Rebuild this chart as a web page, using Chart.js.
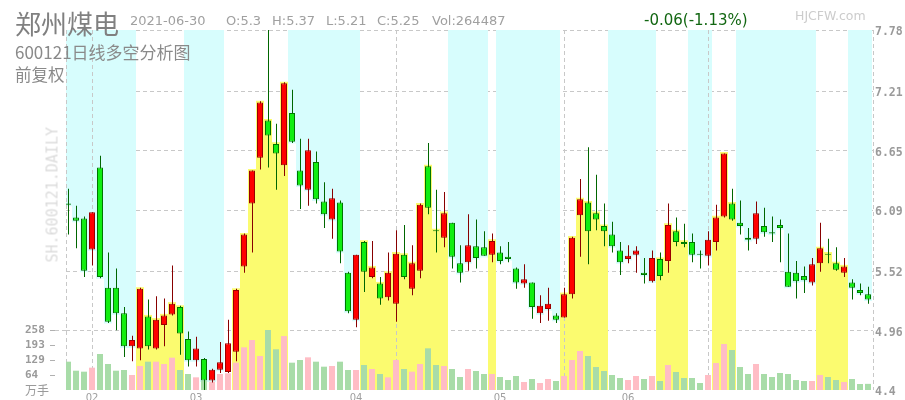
<!DOCTYPE html>
<html lang="zh">
<head>
<meta charset="utf-8">
<title>郑州煤电 600121 日线多空分析图</title>
<script src="https://cdn.jsdelivr.net/npm/chart.js@4.4.1/dist/chart.umd.min.js"></script>
<style>
  html, body { margin: 0; padding: 0; background: #ffffff; }
  #wrap { position: relative; width: 905px; height: 400px; overflow: hidden; background: #fff; }
  #chart { position: absolute; left: 0; top: 0; }
  .txt { position: absolute; white-space: pre; line-height: 1; pointer-events: none; }
  .cjk { font-family: "Noto Sans CJK SC", sans-serif; }
  .info { font-family: "DejaVu Sans", sans-serif; font-size: 13px; color: #a0a0a0; top: 14px; }
</style>
</head>
<body>
<div id="wrap">
  <canvas id="chart" width="905" height="400"></canvas>
  <div class="txt cjk" style="left:15px;top:10px;font-size:26px;color:#808080;">郑州煤电</div>
  <div class="txt info" style="left:130px;">2021-06-30</div>
  <div class="txt info" style="left:226px;">O:5.3</div>
  <div class="txt info" style="left:272px;">H:5.37</div>
  <div class="txt info" style="left:326px;">L:5.21</div>
  <div class="txt info" style="left:377px;">C:5.25</div>
  <div class="txt info" style="left:432px;">Vol:264487</div>
  <div class="txt" style="left:644px;top:13px;font-family:'DejaVu Sans',sans-serif;font-size:15px;color:#116611;">-0.06(-1.13%)</div>
  <div class="txt" style="left:795px;top:10px;font-family:'DejaVu Sans',sans-serif;font-size:12.5px;color:#cccccc;">HJCFW.com</div>
  <div class="txt cjk" style="left:15px;top:43px;font-size:17px;color:#8a8a8a;">600121日线多空分析图</div>
  <div class="txt cjk" style="left:15px;top:66px;font-size:16.5px;color:#8a8a8a;">前复权</div>
  <div class="txt" style="left:-15px;top:187px;width:136px;height:15px;font-family:'DejaVu Sans Mono',monospace;font-size:15px;line-height:15px;color:#dcdcdc;transform:rotate(-90deg);transform-origin:50% 50%;">SH.600121.DAILY</div>
</div>
<script>
// ---------------- data ----------------
const monthLabels    = ['02', '03', '04', '05', '06'];
const monthTickIndex = [3, 16, 36, 54, 70];
const vGridIndex     = [3, 41, 62, 80];
const priceTicks  = [4.4, 4.96, 5.52, 6.09, 6.65, 7.21, 7.78];
const priceLabels = ['4.4', '4.96', '5.52', '6.09', '6.65', '7.21', '7.78'];
const volTicks  = [0, 64.5, 129, 193.5, 258];
const volLabels = ['万手', '64', '129', '193', '258'];
const VOL_MAX = 1548;   // volume axis top (258 sits on the 4.96 grid line)

const opens = [6.15,6.02,6.01,5.72,6.49,5.36,5.36,5.12,4.81,4.79,
  5.09,4.79,5.01,5.11,5.18,4.88,4.68,4.69,4.49,4.59,
  4.57,4.76,5.56,6.15,6.58,6.93,6.71,6.51,7.00,6.46,
  6.28,6.54,6.17,6.00,6.16,5.50,5.06,5.79,5.46,5.40,
  5.27,5.21,5.67,5.35,5.52,6.50,5.90,5.83,5.97,5.59,
  5.60,5.75,5.74,5.67,5.69,5.65,5.54,5.40,5.41,5.12,
  5.16,5.10,5.08,5.30,6.04,6.16,6.06,5.94,5.86,5.71,
  5.63,5.67,5.50,5.42,5.63,5.61,5.89,5.79,5.79,5.68,
  5.66,5.79,6.03,6.15,5.97,5.83,5.82,5.94,5.88,5.95,
  5.51,5.50,5.47,5.41,5.59,5.68,5.59,5.50,5.41,5.34,5.30];
const highs = [6.29,6.13,6.03,6.07,6.60,5.69,5.54,5.18,4.91,5.36,
  5.25,5.28,5.26,5.57,5.19,4.95,4.90,4.70,4.60,4.85,
  5.06,5.35,5.87,6.46,7.11,7.78,6.90,7.29,7.22,6.76,
  6.76,6.64,6.35,6.29,6.18,5.51,5.67,5.80,5.80,5.46,
  5.69,5.90,5.95,5.76,6.15,6.72,6.28,6.26,5.97,5.76,
  6.05,6.00,5.89,5.87,5.75,5.79,5.55,5.58,5.41,5.29,
  5.36,5.12,5.36,5.84,6.38,6.68,6.42,6.15,5.98,5.79,
  5.76,5.75,5.64,5.71,5.69,6.15,6.02,5.96,5.87,5.71,
  5.89,6.14,6.62,6.29,6.18,5.92,6.17,6.11,6.03,6.00,
  5.87,5.61,5.56,5.64,5.97,5.82,5.74,5.64,5.44,5.40,5.37];
const lows = [5.86,5.73,5.46,5.57,5.45,5.03,4.96,4.71,4.67,4.68,
  4.78,4.78,4.81,5.10,4.73,4.62,4.62,4.40,4.47,4.56,
  4.56,4.67,5.50,5.69,6.47,6.49,6.28,6.41,6.72,6.10,
  6.13,6.15,5.92,5.82,5.59,5.12,4.99,5.32,5.45,5.20,
  5.24,5.04,5.44,5.29,5.45,6.05,5.69,5.74,5.54,5.41,
  5.52,5.54,5.66,5.60,5.58,5.60,5.35,5.36,5.07,5.03,
  5.05,5.03,5.08,5.26,5.65,5.58,5.90,5.75,5.69,5.48,
  5.59,5.50,5.40,5.41,5.43,5.50,5.75,5.74,5.60,5.54,
  5.57,5.71,6.02,5.99,5.86,5.71,5.77,5.84,5.79,5.60,
  5.37,5.26,5.31,5.38,5.51,5.59,5.52,5.46,5.25,5.29,5.21];
const closes = [6.14,5.99,5.52,6.07,5.46,5.04,5.12,4.81,4.87,5.35,
  4.81,5.06,5.10,5.21,4.93,4.68,4.79,4.49,4.59,4.66,
  4.84,5.34,5.86,6.46,7.10,6.79,6.62,7.28,6.73,6.32,
  6.65,6.19,6.05,6.20,5.70,5.14,5.67,5.51,5.55,5.26,
  5.50,5.68,5.46,5.59,6.14,6.11,5.89,6.06,5.65,5.50,
  5.76,5.64,5.66,5.80,5.61,5.63,5.41,5.44,5.18,5.19,
  5.21,5.06,5.30,5.83,6.19,5.89,6.00,5.89,5.75,5.60,
  5.66,5.71,5.48,5.64,5.47,5.95,5.79,5.77,5.67,5.67,
  5.81,6.02,6.62,6.00,5.94,5.81,6.06,5.88,5.87,5.92,
  5.37,5.42,5.43,5.58,5.73,5.67,5.53,5.56,5.36,5.31,5.25];
const volumes = [121.8,83,78.8,96,154.8,111.8,83,86,64.5,103.2,
  121.8,121.8,111.8,139,86,68.8,54.5,40,35.8,68.8,
  71.7,117.5,183.5,215,146.2,258,175,232,117.5,129,
  140.5,121.8,100.3,103.2,121.8,86,86,107.5,90.3,68.8,
  54.5,129,90.3,78.8,111.8,179.2,107.5,103.2,90.3,55.9,
  90.3,81.7,68.8,68.8,55.9,43,60.2,34.4,47.3,30.1,
  47.3,38.7,60.2,129,167.7,146.2,98.9,81.7,64.5,51.6,
  43,60.2,47.3,60.2,38.7,107.5,77.4,51.6,51.6,30.1,
  64.5,116.1,197.8,172,98.9,68.8,111.8,68.8,55.9,73.1,
  68.8,43,38.7,38.7,64.5,55.9,43,34.4,47.3,25.8,26.4];
// c = bear zone (cyan from top), y = bull zone (yellow from bottom), n = none
const zones = ['cccccccccy','yyyyyccccc','nyyyyyyycc','cccccccyyy','yyyyyyyycc',
  'cccycccccc','ccyyyyyycc','ccccyyyycc','cyyycccccc','ccccyyyycc','c'].join('').split('');

// ---------------- styles ----------------
const UP_BODY = '#ff0000', UP_EDGE = '#990000', UP_WICK = '#880000';
const DN_BODY = '#11ee11', DN_EDGE = '#007700', DN_WICK = '#006600';
const VOL_UP = '#ffbdc5', VOL_DN = '#a8dca8';
const CYAN = '#d7fdfd', YELLOW = '#fbfb6f';
const GRID = '#c8c8c8';
const FILL_PAD = 0.015;

const N = closes.length;
const idx = Array.from({ length: N }, (_, i) => i);
const isUp = i => closes[i] > opens[i];
const P_MIN = priceTicks[0], P_MAX = priceTicks[priceTicks.length - 1];

// x axis range so candle i sits at an integer pixel (chart area 66..873, 8px per candle)
const X_MIN = -0.25, X_MAX = 100.625, HALF_PX = 0.0625;

const framePlugin = {
  id: 'frame',
  beforeDatasetsDraw(chart) {
    const { ctx, chartArea: a, scales } = chart;
    const y = scales.y, yv = scales.yv;
    ctx.save();
    ctx.lineWidth = 1;
    ctx.strokeStyle = GRID;
    ctx.setLineDash([4, 3]);
    const hline = (py, x0, x1) => { py = Math.round(py) + 0.5; ctx.beginPath(); ctx.moveTo(x0, py); ctx.lineTo(x1, py); ctx.stroke(); };
    priceTicks.slice(1).forEach(v => hline(y.getPixelForValue(v), a.left, a.right));
    hline(yv.getPixelForValue(volTicks[volTicks.length - 1]), 55, a.left);
    ctx.setLineDash([]);
    ctx.strokeStyle = '#b0b0b0';
    volTicks.slice(1).forEach(v => { const py = Math.round(yv.getPixelForValue(v)) + 0.5; ctx.beginPath(); ctx.moveTo(50, py); ctx.lineTo(55, py); ctx.stroke(); });
    ctx.restore();
  },
  afterDatasetDraw(chart, args) {
    if (args.index !== 1) return;   // right after the zone fills
    const { ctx, chartArea: a, scales } = chart;
    const x = scales.x;
    ctx.save();
    ctx.lineWidth = 1;
    ctx.strokeStyle = GRID;
    ctx.setLineDash([4, 3]);
    const vline = px => { px = Math.round(px) + 0.5; ctx.beginPath(); ctx.moveTo(px, a.top); ctx.lineTo(px, a.bottom); ctx.stroke(); };
    vline(a.left); vline(a.right);
    vGridIndex.forEach(i => vline(x.getPixelForValue(i)));
    ctx.restore();
  }
};

const monoBold = { family: 'DejaVu Sans Mono', size: 11.5, weight: 'bold' };

new Chart(document.getElementById('chart'), {
  type: 'bar',
  data: {
    datasets: [
      { label: 'bear', xAxisID: 'x', yAxisID: 'y', order: 5, grouped: false, barThickness: 8, inflateAmount: 0,
        data: idx.filter(i => zones[i] === 'c').map(i => ({ x: i, y: [Math.min(opens[i], closes[i]) - FILL_PAD, P_MAX] })),
        backgroundColor: CYAN },
      { label: 'bull', xAxisID: 'x', yAxisID: 'y', order: 4, grouped: false, barThickness: 8, inflateAmount: 0,
        data: idx.filter(i => zones[i] === 'y').map(i => ({ x: i, y: [P_MIN, Math.max(opens[i], closes[i]) + FILL_PAD] })),
        backgroundColor: YELLOW },
      { label: 'volume', xAxisID: 'x', yAxisID: 'yv', order: 3, grouped: false, barThickness: 6, inflateAmount: 0,
        data: idx.map(i => ({ x: i, y: volumes[i] })),
        backgroundColor: idx.map(i => isUp(i) ? VOL_UP : VOL_DN) },
      { label: 'wick', xAxisID: 'xw', yAxisID: 'y', order: 2, grouped: false, barThickness: 1, inflateAmount: 0,
        data: idx.map(i => ({ x: i, y: [lows[i], highs[i]] })),
        backgroundColor: idx.map(i => isUp(i) ? UP_WICK : DN_WICK) },
      { label: 'body', xAxisID: 'x', yAxisID: 'y', order: 1, grouped: false, barThickness: 6, inflateAmount: 0,
        minBarLength: 1, borderWidth: 1, borderSkipped: false,
        data: idx.map(i => ({ x: i, y: [opens[i], closes[i]] })),
        backgroundColor: idx.map(i => isUp(i) ? UP_BODY : DN_BODY),
        borderColor: idx.map(i => isUp(i) ? UP_EDGE : DN_EDGE) }
    ]
  },
  options: {
    responsive: false,
    animation: false,
    events: [],
    layout: { padding: { left: 25, top: 30, right: 0, bottom: 0 } },
    plugins: { legend: { display: false }, tooltip: { enabled: false } },
    scales: {
      x: {
        type: 'linear', position: 'bottom', min: X_MIN, max: X_MAX, offset: false,
        grid: { display: false, drawTicks: false }, border: { display: false },
        afterBuildTicks: s => { s.ticks = monthTickIndex.map(v => ({ value: v })); },
        afterFit: s => { s.height = 10; },
        ticks: { autoSkip: false, maxRotation: 0, padding: 2, color: '#a0a0a0',
          font: { family: 'DejaVu Sans', size: 10 }, callback: (v, i) => monthLabels[i] }
      },
      xw: { type: 'linear', display: false, min: X_MIN - HALF_PX, max: X_MAX - HALF_PX, offset: false },
      y: {
        type: 'linear', position: 'right', min: P_MIN, max: P_MAX,
        grid: { display: false, drawTicks: false }, border: { display: false },
        afterBuildTicks: s => { s.ticks = priceTicks.map(v => ({ value: v })); },
        afterFit: s => { s.width = 32; },
        ticks: { autoSkip: false, padding: 2, labelOffset: 2.5, color: '#9a9a9a', font: monoBold,
          callback: (v, i) => priceLabels[i] }
      },
      yv: {
        type: 'linear', position: 'left', min: 0, max: VOL_MAX,
        grid: { display: false, drawTicks: false }, border: { display: false },
        afterBuildTicks: s => { s.ticks = volTicks.map(v => ({ value: v })); },
        afterFit: s => { s.width = 41; },
        ticks: { autoSkip: false, crossAlign: 'far', padding: 0, color: '#9a9a9a',
          font: c => (c.tick && c.tick.value === 0) ? { family: 'Noto Sans CJK SC', size: 12 } : { family: 'DejaVu Sans Mono', size: 11, weight: 'bold' },
          callback: (v, i) => volLabels[i] }
      }
    }
  },
  plugins: [framePlugin]
});
</script>
</body>
</html>
